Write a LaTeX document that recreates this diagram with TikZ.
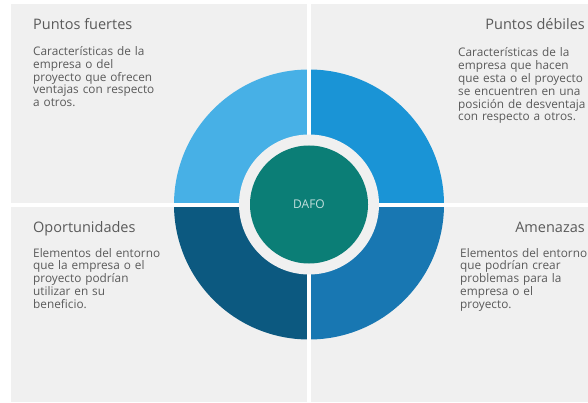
\documentclass[tikz,border=0pt]{standalone}
\usepackage{fontspec}
\setmainfont{Open Sans}

\definecolor{panelgray}{HTML}{F0F0F0}
\definecolor{textgray}{HTML}{5A5A5A}
\definecolor{fuertes}{HTML}{47B0E6}
\definecolor{debiles}{HTML}{1A94D6}
\definecolor{oportunidades}{HTML}{0C5980}
\definecolor{amenazas}{HTML}{1877B2}
\definecolor{dafo}{HTML}{0B7E76}

\tikzset{
  titletext/.style={inner sep=0pt, text=textgray, font=\fontsize{14.5}{16}\selectfont},
  bodytext/.style={inner sep=0pt, text=textgray, text width=170pt, align=left,
    font=\fontsize{11.8}{12.8}\selectfont},
}

\begin{document}
\begin{tikzpicture}[x=1pt,y=-1pt]
\useasboundingbox (0,0) rectangle (588,403);
\clip (0,0) rectangle (588,403);

\fill[panelgray] (11,4) rectangle (588,402);

% circle quadrants (y points down)
\coordinate (c) at (309,204.5);
\fill[amenazas] (c) -- ++(135,0) arc[start angle=0, end angle=90, radius=135] -- cycle;
\fill[oportunidades] (c) -- ++(0,135) arc[start angle=90, end angle=180, radius=135] -- cycle;
\fill[fuertes] (c) -- ++(-135,0) arc[start angle=180, end angle=270, radius=135] -- cycle;
\fill[debiles] (c) -- ++(0,-135) arc[start angle=270, end angle=360, radius=135] -- cycle;

% white gaps
\draw[white, line width=3.5pt] (309,0) -- (309,403);
\draw[white, line width=3.5pt] (0,205) -- (588,205);

\fill[panelgray] (c) circle[radius=70];
\node[circle, fill=dafo, minimum size=118pt, inner sep=0pt, text=white!75!dafo,
  font=\fontsize{12}{14}\selectfont] (dafo) at (c) {DAFO};

\node[titletext, anchor=base west] (fuertestitle) at (33,30) {Puntos fuertes};
\node[bodytext, anchor=base west] (fuertesbody) at (33,55.5)
  {Características de la\\empresa o del\\proyecto que ofrecen\\ventajas con respecto\\a otros.};

\node[titletext, anchor=base east] (debilestitle) at (585,30) {Puntos débiles};
\node[bodytext, anchor=base west] (debilesbody) at (458,57)
  {Características de la\\empresa que hacen\\que esta o el proyecto\\se encuentren en una\\posición de desventaja\\con respecto a otros.};

\node[titletext, anchor=base west] (oportunidadestitle) at (33,232) {Oportunidades};
\node[bodytext, anchor=base west] (oportunidadesbody) at (33,257)
  {Elementos del entorno\\que la empresa o el\\proyecto podrían\\utilizar en su\\beneficio.};

\node[titletext, anchor=base east] (amenazastitle) at (585,232) {Amenazas};
\node[bodytext, anchor=base west] (amenazasbody) at (460,257)
  {Elementos del entorno\\que podrían crear\\problemas para la\\empresa o el\\proyecto.};
\end{tikzpicture}
\end{document}
